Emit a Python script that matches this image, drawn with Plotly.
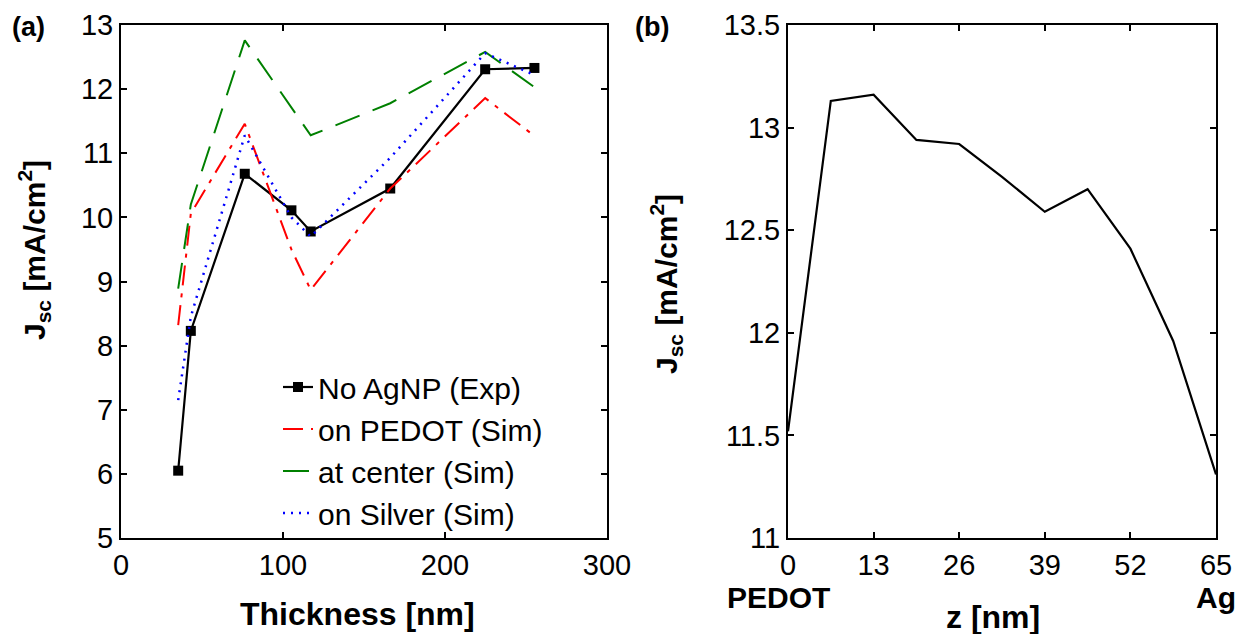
import plotly.graph_objects as go

# Panel (a)
thickness = [35.3, 43.1, 76.4, 105.2, 117.1, 166.2, 224.8, 255.2]
jsc_exp = [6.05, 8.23, 10.68, 10.11, 9.78, 10.45, 12.31, 12.33]
jsc_pedot = [8.32, 10.06, 11.46, 9.5, 8.87, 10.45, 11.86, 11.27]
jsc_center = [8.89, 10.2, 12.76, 11.71, 11.28, 11.78, 12.58, 12.03]
jsc_silver = [7.15, 8.45, 11.28, 10.0, 9.70, 10.93, 12.56, 12.22]

# Panel (b)
z_nm = [0, 6.5, 13, 19.5, 26, 32.5, 39, 45.5, 52, 58.5, 65]
jsc_z = [11.52, 13.13, 13.16, 12.94, 12.92, 12.76, 12.59, 12.70, 12.41, 11.96, 11.31]

# page has an 8px body margin: size the figure so it fills the 1251x634 window
OFF = 8
W, H = 1251 - OFF, 634 - OFF
FONT = "Liberation Sans, Arial, sans-serif"

fig = go.Figure()

fig.add_trace(go.Scatter(x=thickness, y=jsc_exp, mode="lines+markers", name="No AgNP (Exp)",
                         line=dict(color="black", width=2.2),
                         marker=dict(symbol="square", size=10, color="black"),
                         xaxis="x", yaxis="y"))
fig.add_trace(go.Scatter(x=thickness, y=jsc_pedot, mode="lines", name="on PEDOT (Sim)",
                         line=dict(color="red", width=2, dash="20px,8px,4px,8px"),
                         xaxis="x", yaxis="y"))
fig.add_trace(go.Scatter(x=thickness, y=jsc_center, mode="lines", name="at center (Sim)",
                         line=dict(color="green", width=2, dash="26px,14px"),
                         xaxis="x", yaxis="y"))
fig.add_trace(go.Scatter(x=thickness, y=jsc_silver, mode="lines", name="on Silver (Sim)",
                         line=dict(color="blue", width=2.5, dash="2px,6px"),
                         xaxis="x", yaxis="y"))
fig.add_trace(go.Scatter(x=z_nm, y=jsc_z, mode="lines", showlegend=False,
                         line=dict(color="black", width=2.2),
                         xaxis="x2", yaxis="y2"))

def px_x(p):
    return (p - OFF) / W

def px_y(p):
    return 1 - (p - OFF) / H

axis_common = dict(showline=True, linecolor="black", linewidth=2, mirror="ticks",
                   ticks="inside", ticklen=6, tickwidth=2, tickcolor="black",
                   showgrid=False, zeroline=False, automargin=False,
                   tickfont=dict(family=FONT, size=29, color="black"))

fig.update_layout(
    width=W, height=H,
    margin=dict(l=0, r=0, t=0, b=0, autoexpand=False),
    paper_bgcolor="white", plot_bgcolor="white",
    xaxis=dict(domain=[px_x(121), px_x(607)], range=[0, 300], dtick=100, anchor="y", **axis_common),
    yaxis=dict(domain=[px_y(538), px_y(25)], range=[5, 13], dtick=1, anchor="x", **axis_common),
    xaxis2=dict(domain=[px_x(788), px_x(1216)], range=[0, 65], dtick=13, anchor="y2", **axis_common),
    yaxis2=dict(domain=[px_y(538), px_y(25)], range=[11, 13.5], dtick=0.5, anchor="x2", **axis_common),
    legend=dict(x=px_x(278), y=px_y(361), xanchor="left", yanchor="top",
                bgcolor="rgba(0,0,0,0)", borderwidth=0, tracegroupgap=0,
                font=dict(family=FONT, size=30, color="black")),
    showlegend=True,
)

ann = [
    dict(text="<b>(a)</b>", x=px_x(28), y=px_y(27), font=dict(size=27)),
    dict(text="<b>(b)</b>", x=px_x(652), y=px_y(27), font=dict(size=27)),
    dict(text="<b>Thickness [nm]</b>", x=px_x(357), y=px_y(614), font=dict(size=32)),
    dict(text="<b>z [nm]</b>", x=px_x(993), y=px_y(617), font=dict(size=32)),
    dict(text="<b>PEDOT</b>", x=px_x(778), y=px_y(597), font=dict(size=30)),
    dict(text="<b>Ag</b>", x=px_x(1216), y=px_y(597), font=dict(size=30)),
    dict(text="<b>J<sub>sc</sub> [mA/cm<sup>2</sup>]</b>", x=px_x(34), y=px_y(250),
         textangle=-90, font=dict(size=30)),
    dict(text="<b>J<sub>sc</sub> [mA/cm<sup>2</sup>]</b>", x=px_x(666), y=px_y(284),
         textangle=-90, font=dict(size=30)),
]
for a in ann:
    a["font"].update(family=FONT, color="black")
    fig.add_annotation(xref="paper", yref="paper", showarrow=False,
                       xanchor="center", yanchor="middle", **a)

fig.write_html("out.html")
